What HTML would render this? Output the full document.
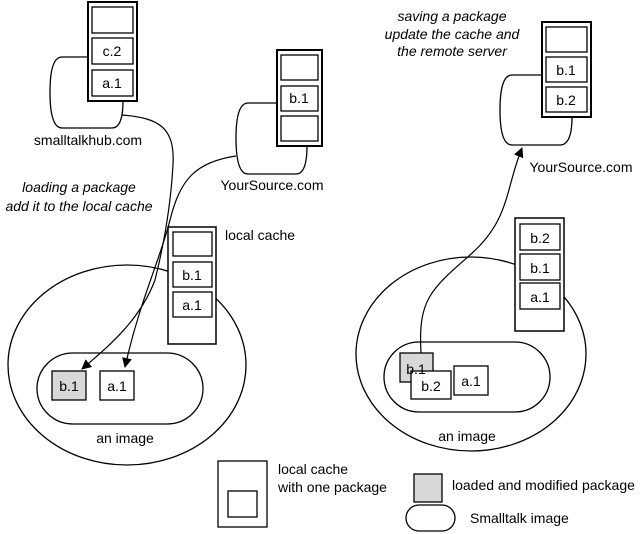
<!DOCTYPE html>
<html><head><style>
html,body{margin:0;padding:0;background:#fff;}
svg{display:block;}
text{font-family:"Liberation Sans",sans-serif;font-size:14px;fill:#000;}
.i{font-style:italic;}
</style></head><body>
<svg width="640" height="534" viewBox="0 0 640 534" xmlns="http://www.w3.org/2000/svg">
<defs>
<marker id="ah" markerWidth="10" markerHeight="10" refX="9" refY="5" orient="auto" markerUnits="userSpaceOnUse">
<path d="M0,0 L10,5 L0,10 z" fill="#000"/>
</marker>
</defs>
<g fill="#fff" stroke="#000" stroke-width="1.3">
<path d="M88,57 L62,57 Q50,57 50,92 Q50,128 62,128 L112,128 Q123,128 123,101"/>
<rect x="88" y="2" width="49" height="99" stroke-width="2"/>
<rect x="92" y="7" width="41" height="26"/>
<rect x="92" y="38" width="41" height="26"/>
<rect x="92" y="70" width="41" height="26"/>
<path d="M277,103 L248,103 Q236,103 236,138 Q236,174 248,174 L296,174 Q307,174 307,146"/>
<rect x="277" y="50" width="45" height="96" stroke-width="2"/>
<rect x="281" y="55" width="37" height="25"/>
<rect x="281" y="86" width="37" height="25"/>
<rect x="281" y="116" width="37" height="25"/>
<ellipse cx="127" cy="365" rx="119" ry="100"/>
<rect x="168" y="227" width="48" height="117" stroke-width="1.5"/>
<rect x="173" y="232" width="39" height="24"/>
<rect x="173" y="262" width="39" height="25"/>
<rect x="173" y="292" width="39" height="25"/>
<rect x="37" y="353" width="166" height="71" rx="36"/>
<rect x="52" y="371" width="34" height="29" fill="#d8d8d8"/>
<rect x="100" y="371" width="34" height="29"/>
<path d="M542,75 L512,75 Q500,75 500,110 Q500,145 512,145 L560,145 Q572,145 572,117"/>
<rect x="542" y="22" width="49" height="95" stroke-width="2"/>
<rect x="546" y="27" width="41" height="25"/>
<rect x="546" y="57" width="41" height="25"/>
<rect x="546" y="87" width="41" height="25"/>
<ellipse cx="471" cy="354" rx="115" ry="97"/>
<rect x="515" y="218" width="49" height="113" stroke-width="1.5"/>
<rect x="520" y="224" width="40" height="26"/>
<rect x="520" y="254" width="40" height="26"/>
<rect x="520" y="283" width="40" height="26"/>
<rect x="384" y="342" width="166" height="70" rx="35"/>
<rect x="400" y="353" width="33" height="29" fill="#d8d8d8"/>
<rect x="411" y="371" width="40" height="28"/>
<rect x="454" y="366" width="34" height="29"/>
<rect x="218" y="461" width="49" height="66"/>
<rect x="228" y="491" width="29" height="26"/>
<rect x="414" y="474" width="28" height="28" fill="#d8d8d8"/>
<rect x="406" y="505" width="49" height="26" rx="13"/>
</g>
<g fill="none" stroke="#000" stroke-width="1.2">
<path d="M122,115 C160,118 175,128 173,165 C171,200 165,240 155,280 C140,320 110,345 82,369" marker-end="url(#ah)"/>
<path d="M236,156 C195,162 180,180 170,220 C160,260 140,300 125,367" marker-end="url(#ah)"/>
<path d="M421,353 C418,300 430,290 470,255 C510,220 505,190 522,148" marker-end="url(#ah)"/>
</g>
<g text-anchor="middle">
<text x="112" y="56">c.2</text>
<text x="112" y="88">a.1</text>
<text x="299" y="103">b.1</text>
<text x="192" y="280">b.1</text>
<text x="192" y="310">a.1</text>
<text x="69" y="391">b.1</text>
<text x="117" y="391">a.1</text>
<text x="566" y="75">b.1</text>
<text x="566" y="105">b.2</text>
<text x="540" y="243">b.2</text>
<text x="540" y="273">b.1</text>
<text x="540" y="302">a.1</text>
<text x="416" y="374">b.1</text>
<text x="431" y="391">b.2</text>
<text x="471" y="386">a.1</text>
<text x="88" y="145">smalltalkhub.com</text>
<text x="272" y="190">YourSource.com</text>
<text x="581" y="172">YourSource.com</text>
<text x="125" y="443">an image</text>
<text x="467" y="441">an image</text>
<text class="i" x="79" y="192">loading a package</text>
<text class="i" x="79" y="211">add it to the local cache</text>
<text class="i" x="452" y="21">saving a package</text>
<text class="i" x="452" y="39">update the cache and</text>
<text class="i" x="452" y="56">the remote server</text>
</g>
<text x="225" y="240">local cache</text>
<text x="278" y="474">local cache</text>
<text x="278" y="492">with one package</text>
<text x="452" y="490">loaded and modified package</text>
<text x="470" y="523">Smalltalk image</text>
</svg>
</body></html>
